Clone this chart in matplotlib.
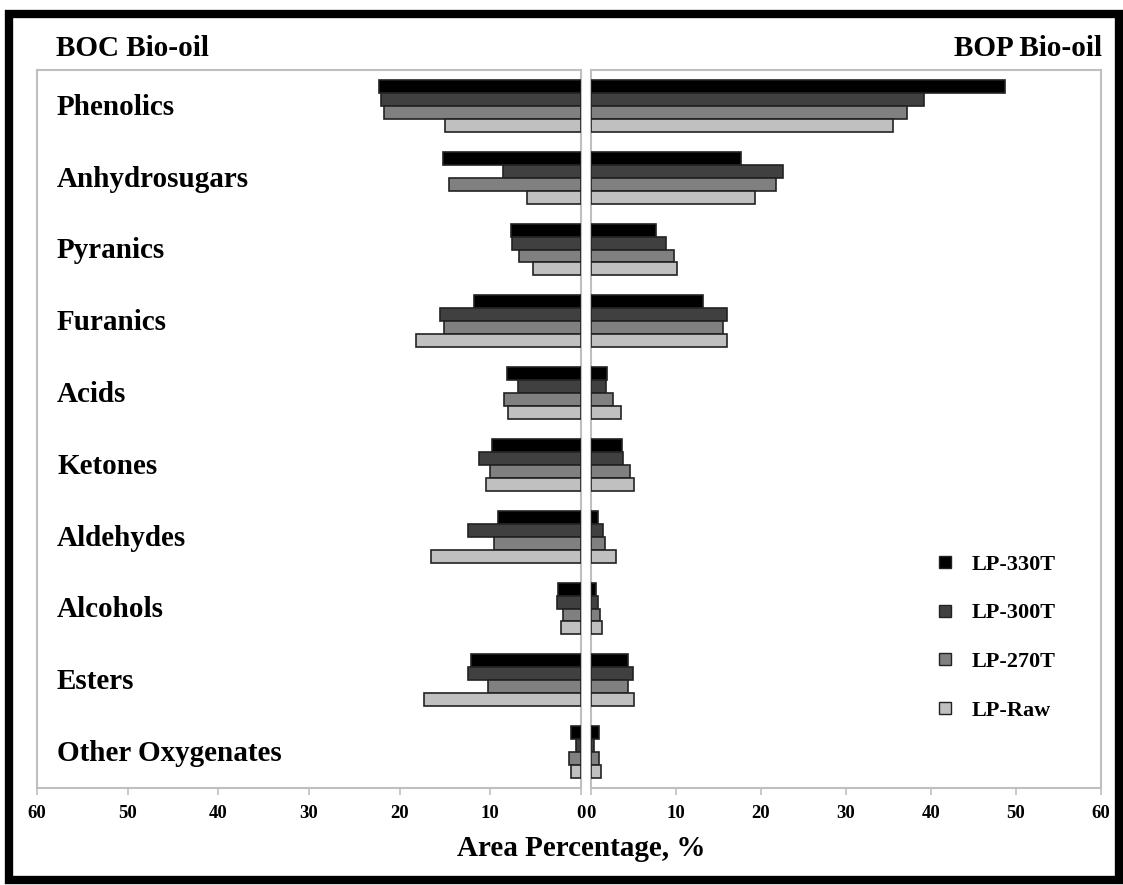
import matplotlib
matplotlib.use("Agg")
import matplotlib.pyplot as plt
from matplotlib.lines import Line2D
from matplotlib.patches import Rectangle
from matplotlib.transforms import blended_transform_factory
import numpy as np

plt.rcParams['font.family'] = ['Liberation Serif', 'DejaVu Serif']
plt.rcParams['font.weight'] = 'bold'

categories = ["Phenolics", "Anhydrosugars", "Pyranics", "Furanics", "Acids",
              "Ketones", "Aldehydes", "Alcohols", "Esters", "Other Oxygenates"]
series = ["LP-330T", "LP-300T", "LP-270T", "LP-Raw"]

# BOC bio-oil (left panel), area %
boc_330 = [22.3, 15.2, 7.7, 11.8, 8.2, 9.8, 9.1, 2.5, 12.1, 1.1]
boc_300 = [22.1, 8.6, 7.6, 15.6, 7.0, 11.2, 12.5, 2.6, 12.5, 0.6]
boc_270 = [21.7, 14.6, 6.8, 15.1, 8.5, 10.0, 9.6, 2.0, 10.3, 1.3]
boc_raw = [15.0, 6.0, 5.3, 18.2, 8.0, 10.5, 16.5, 2.2, 17.3, 1.1]

# BOP bio-oil (right panel), area %
bop_330 = [48.7, 17.6, 7.6, 13.2, 1.9, 3.6, 0.8, 0.6, 4.4, 0.9]
bop_300 = [39.2, 22.6, 8.8, 16.0, 1.8, 3.8, 1.4, 0.8, 4.9, 0.4]
bop_270 = [37.2, 21.8, 9.8, 15.5, 2.6, 4.6, 1.7, 1.0, 4.3, 0.9]
bop_raw = [35.5, 19.3, 10.1, 16.0, 3.5, 5.0, 2.9, 1.3, 5.0, 1.2]

x_ticks = [0, 10, 20, 30, 40, 50, 60]

colors = ["#000000", "#404040", "#808080", "#c0c0c0"]
edge = "#222222"
spine_col = "#bfbfbf"

W, H = 1123, 885
fig = plt.figure(figsize=(W / 100, H / 100), dpi=100)


def fx(px):
    return px / W


def fy(py):
    return 1 - py / H


ax_l = fig.add_axes([fx(37), fy(788), fx(581 - 37), (788 - 70) / H])
ax_r = fig.add_axes([fx(591), fy(788), fx(1101 - 591), (788 - 70) / H])

bar_h = 0.18
ypos = np.arange(len(categories))
left_sets = [boc_330, boc_300, boc_270, boc_raw]
right_sets = [bop_330, bop_300, bop_270, bop_raw]

for j, (lv, rv) in enumerate(zip(left_sets, right_sets)):
    y = ypos + (j - 1.5) * bar_h
    ax_l.barh(y, lv, height=bar_h, color=colors[j], edgecolor=edge, linewidth=1.2, zorder=3)
    ax_r.barh(y, rv, height=bar_h, color=colors[j], edgecolor=edge, linewidth=1.2, zorder=3)

ax_l.set_xlim(60, 0)
ax_r.set_xlim(0, 60)
for ax in (ax_l, ax_r):
    ax.set_ylim(len(categories) - 0.5, -0.5)
    ax.set_yticks([])
    ax.set_xticks(x_ticks)
    ax.set_xticklabels([str(t) for t in x_ticks], fontsize=13.5, fontweight='bold')
    ax.tick_params(axis='x', direction='out', length=5, width=1.2, color=spine_col, pad=7)
    for s in ax.spines.values():
        s.set_color(spine_col)
        s.set_linewidth(1.5)

# category names, left-aligned inside the left panel
label_tr = blended_transform_factory(fig.transFigure, ax_l.transData)
for i, cat in enumerate(categories):
    ax_l.text(fx(57), i + 0.02, cat, transform=label_tr,
              ha='left', va='center', fontsize=21, fontweight='bold')

fig.text(fx(56), fy(48), "BOC Bio-oil", ha='left', va='center', fontsize=21, fontweight='bold')
fig.text(fx(1102), fy(48), "BOP Bio-oil", ha='right', va='center', fontsize=21, fontweight='bold')
fig.text(fx(581), fy(848), "Area Percentage, %", ha='center', va='center',
         fontsize=21, fontweight='bold')

handles = [Line2D([0], [0], marker='s', linestyle='none', markersize=8,
                  markerfacecolor=c, markeredgecolor=edge, markeredgewidth=1.0) for c in colors]
fig.legend(handles, series, loc='upper left', bbox_to_anchor=(fx(934), fy(554)),
           frameon=False, prop={'weight': 'bold', 'size': 16},
           handlelength=1.0, handletextpad=0.7, labelspacing=1.27,
           borderpad=0, borderaxespad=0)

# outer black frame
fig.patches.append(Rectangle((fx(9), fy(880)), fx(1119 - 9), (880 - 14) / H,
                             transform=fig.transFigure, fill=False,
                             edgecolor='black', linewidth=6, zorder=10))

fig.savefig("out.png", dpi=100)
